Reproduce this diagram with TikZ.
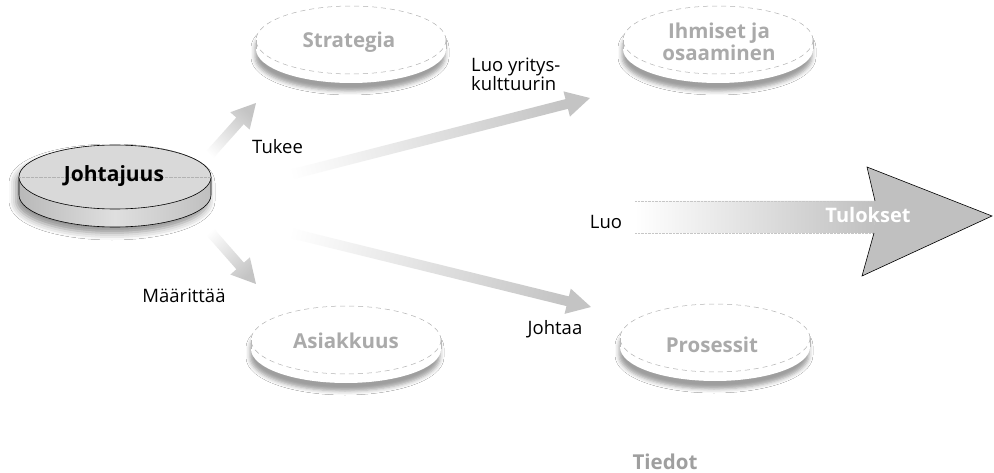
\documentclass[tikz,border=0pt]{standalone}
\usepackage{fontspec}
\setmainfont{Open Sans}
\usetikzlibrary{calc,shadows.blur}
\definecolor{lightlbl}{HTML}{AAAAAA}
\definecolor{arrowgray}{HTML}{C4C4C4}
\definecolor{headgray}{HTML}{C0C0C0}
\tikzset{
  lbl/.style={font=\fontsize{18.5}{20}\selectfont, text=black, inner sep=0pt},
  disclbl/.style={font=\fontsize{20.5}{20}\selectfont\bfseries, text=lightlbl, inner sep=0pt, align=center},
  mainlbl/.style={font=\fontsize{21}{22}\selectfont\bfseries, text=black, inner sep=0pt},
  lightshadow/.style={blur shadow={shadow xshift=-1pt, shadow yshift=-8pt, shadow blur radius=4pt, shadow opacity=38}},
  darkshadow/.style={blur shadow={shadow xshift=-3pt, shadow yshift=-6pt, shadow blur radius=7pt, shadow opacity=45}},
}
% light disc: #1 center, #2 name
\newcommand\lightdisc[2]{%
  \path[fill=white, lightshadow] ($(#1)+(-95pt,0pt)$) -- ++(0pt,-9pt)
     arc[start angle=180, end angle=360, x radius=95pt, y radius=34pt]
     -- ++(0pt,9pt)
     arc[start angle=0, end angle=180, x radius=95pt, y radius=34pt] -- cycle;
  \draw[gray!60, dashed, dash pattern=on 5pt off 4pt, line width=0.5pt] (#1) ellipse[x radius=95pt, y radius=34pt];
  \draw[gray!55, line width=0.5pt] ($(#1)+(-95pt,0pt)$) -- ++(0pt,-9pt);
  \draw[gray!55, line width=0.5pt] ($(#1)+(95pt,0pt)$) -- ++(0pt,-9pt);
}
\newcommand\fadearrow[3]{%
  \path let \p1=(#1), \p2=(#2), \n1={atan2(\y2-\y1,\x2-\x1)}, \n2={veclen(\x2-\x1,\y2-\y1)} in
    \pgfextra{\xdef\faang{\n1}\xdef\falen{\n2}};
  \pgfmathsetmacro\fashade{\faang+90}
  \shade[shift={(#1)}, rotate=\faang, left color=white, right color=#3, shading angle=\fashade]
     (0pt,-5pt) -- (\falen-24pt,-5pt) -- (\falen-24pt,-13pt) -- (\falen,0pt)
     -- (\falen-24pt,13pt) -- (\falen-24pt,5pt) -- (0pt,5pt) -- cycle;
}
\begin{document}
\begin{tikzpicture}[x=1pt,y=-1pt]
\useasboundingbox (0,0) rectangle (994,473);
\fill[white] (0,0) rectangle (994,473);

% light discs
\coordinate (cS) at (351,40);
\coordinate (cI) at (718,40);
\coordinate (cA) at (346,340);
\coordinate (cP) at (715,338);
\lightdisc{cS}{S}
\lightdisc{cI}{I}
\lightdisc{cA}{A}
\lightdisc{cP}{P}
\node[disclbl] (strategia) at (349,42) {Strategia};
\node[disclbl] (ihmiset) at (719,42) {Ihmiset ja\\osaaminen};
\node[disclbl] (asiakkuus) at (346,341) {Asiakkuus};
\node[disclbl] (prosessit) at (712,345) {Prosessit};

% main disc
\coordinate (cJ) at (115,177);
\path[fill=gray!30, darkshadow] ($(cJ)+(-96pt,0pt)$) -- ++(0pt,-18pt)
     arc[start angle=180, end angle=360, x radius=96pt, y radius=32pt]
     -- ++(0pt,18pt)
     arc[start angle=0, end angle=180, x radius=96pt, y radius=32pt] -- cycle;
\shade[left color=gray!55, right color=gray!50, middle color=gray!25]
     ($(cJ)+(-96pt,0pt)$) -- ++(0pt,-18pt)
     arc[start angle=180, end angle=360, x radius=96pt, y radius=32pt]
     -- ++(0pt,18pt)
     arc[start angle=360, end angle=180, x radius=96pt, y radius=32pt] -- cycle;
\draw[line width=0.6pt] ($(cJ)+(-96pt,0pt)$) -- ++(0pt,-18pt)
     arc[start angle=180, end angle=360, x radius=96pt, y radius=32pt]
     -- ++(0pt,18pt);
\draw[line width=0.6pt, fill=gray!30] (cJ) ellipse[x radius=96pt, y radius=32pt];
\draw[gray!60, densely dotted, line width=0.3pt] ($(cJ)+(-96pt,0pt)$) -- ($(cJ)+(96pt,0pt)$);
\node[mainlbl] (johtajuus) at (114,176) {Johtajuus};

% arrows
\coordinate (t1) at (205,160); \coordinate (h1) at (256,103);
\coordinate (t2) at (262,182); \coordinate (h2) at (590,98);
\coordinate (t3) at (205,226); \coordinate (h3) at (256,284);
\coordinate (t4) at (262,226); \coordinate (h4) at (591,307);
\fadearrow{t1}{h1}{arrowgray}
\fadearrow{t2}{h2}{arrowgray}
\fadearrow{t3}{h3}{arrowgray}
\fadearrow{t4}{h4}{arrowgray}

% big arrow
\coordinate (bs1) at (635,201); \coordinate (bs2) at (875,201);
\coordinate (bht) at (867,167); \coordinate (btip) at (992,216);
\coordinate (bhb) at (862,276); \coordinate (bs3) at (874,233);
\coordinate (bs4) at (635,233);
\shade[left color=white, right color=headgray] (bs1) -- (bs2) -- (bs3) -- (bs4) -- cycle;
\draw[gray!45, densely dotted, line width=0.4pt] (bs1) -- (bs2);
\draw[gray!45, densely dotted, line width=0.4pt] (bs4) -- (bs3);
\draw[fill=headgray, line width=0.6pt, line join=miter] (bs2) -- (bht) -- (btip) -- (bhb) -- (bs3);
\fill[headgray] (bs2) -- (bs3) -- ($(bs3)+(4pt,0pt)$) -- ($(bs2)+(4pt,0pt)$) -- cycle;
\node[font=\fontsize{20}{20}\selectfont\bfseries, text=white, inner sep=0pt] (tulokset) at (868,215) {Tulokset};

% labels
\node[lbl, anchor=west] (tukee) at (252,147) {Tukee};
\node[lbl, align=left, anchor=west, font=\fontsize{18.5}{19}\selectfont] (luoy) at (471,74) {Luo yritys-\\kulttuurin};
\node[lbl] (luo) at (606,222) {Luo};
\node[lbl] (maar) at (184,296) {Määrittää};
\node[lbl] (johtaa) at (555,329) {Johtaa};
\node[disclbl, text=gray!75] (tiedot) at (665,462) {Tiedot};
\end{tikzpicture}
\end{document}
